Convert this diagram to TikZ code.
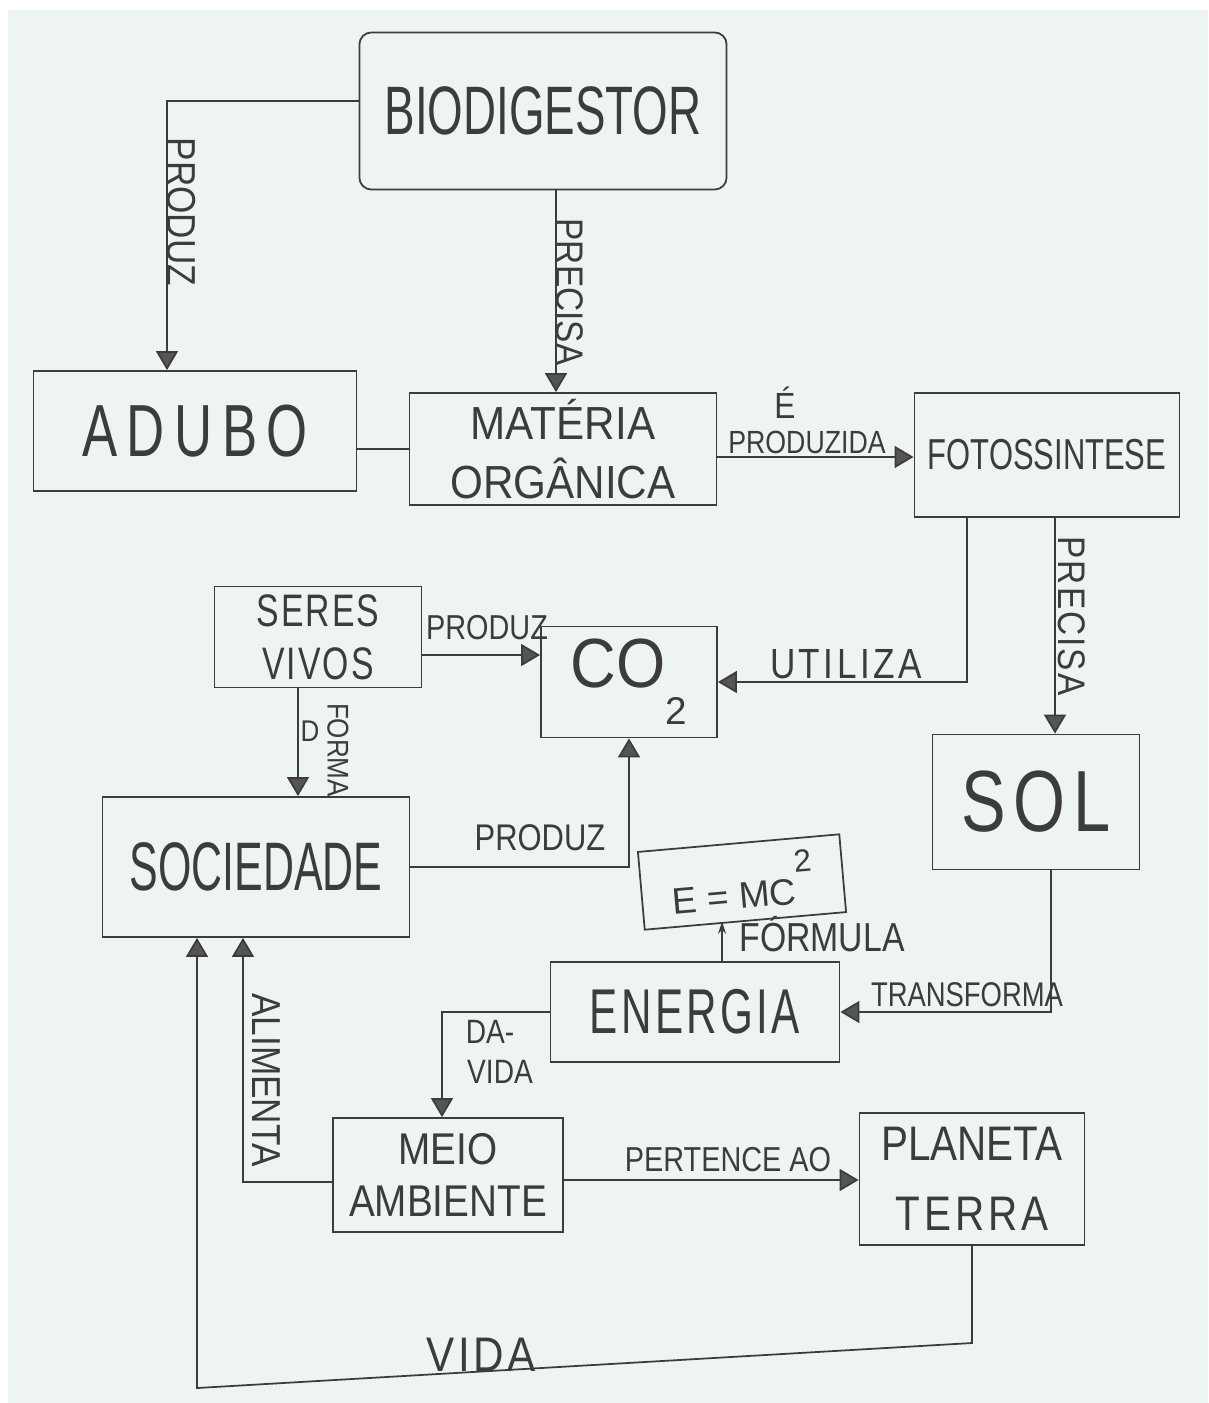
\documentclass[tikz,border=0pt]{standalone}
\usepackage{fontspec}
\setmainfont{Liberation Sans}
\usepackage{graphicx}
\usetikzlibrary{arrows.meta}

\definecolor{paper}{HTML}{EEF5F0}
\definecolor{pencil}{HTML}{3C3C3C}
\definecolor{tipfill}{HTML}{555555}

% vertically stretched lettering, like tall block capitals
\newcommand{\tallt}[2]{\scalebox{1}[#1]{#2}}

\begin{document}
\begin{tikzpicture}[x=0.01cm,y=-0.01cm,
  box/.style={draw=pencil, line width=0.5pt, inner sep=0pt, text=pencil, align=center},
  conn/.style={draw=pencil, line width=0.5pt},
  arr/.style={conn, -{Triangle[width=0.22cm,length=0.19cm,fill=tipfill]}},
  smallarr/.style={conn, -{Stealth[width=0.08cm,length=0.12cm]}},
  lbl/.style={inner sep=0pt, text=pencil, font=\fontsize{8}{10}\selectfont},
]
% sheet of paper
\useasboundingbox (0,0) rectangle (1208,1403);
\fill[white] (0,0) rectangle (1208,1403);
\fill[paper] (8,10) rectangle (1208,1403);

% concept boxes
\node[box, minimum width=3.67cm, minimum height=1.57cm, rounded corners=0.12cm,
      font=\fontsize{13}{16}\selectfont] (bio) at (543,111) {\tallt{1.5}{BIODIGESTOR}};
\node[box, minimum width=3.23cm, minimum height=1.2cm,
      font=\fontsize{15}{18}\selectfont\addfontfeature{LetterSpace=18}] (adubo) at (195,431) {\tallt{1.4}{ADUBO}};
\node[box, minimum width=3.07cm, minimum height=1.12cm,
      font=\fontsize{12}{15}\selectfont] (mat) at (563,449) {\tallt{1.1}{MATÉRIA}\\[2pt]\tallt{1.1}{ORGÂNICA}};
\node[box, minimum width=2.65cm, minimum height=1.24cm,
      font=\fontsize{8.8}{11}\selectfont] (foto) at (1047,455) {\tallt{1.4}{FOTOSSINTESE}};
\node[box, minimum width=2.07cm, minimum height=1.01cm,
      font=\fontsize{9.6}{12}\selectfont\addfontfeature{LetterSpace=6}] (seres) at (318,637) {\tallt{1.35}{SERES}\\[3pt]\tallt{1.35}{VIVOS}};
\node[box, minimum width=1.76cm, minimum height=1.11cm,
      font=\fontsize{18}{20}\selectfont] (co2) at (629,682) {\tallt{1.1}{CO}\raisebox{-1.1ex}{\fontsize{11}{12}\selectfont 2}};
\node[box, minimum width=2.07cm, minimum height=1.35cm,
      font=\fontsize{19}{22}\selectfont\addfontfeature{LetterSpace=12}] (sol) at (1036,802) {\tallt{1.3}{SOL}};
\node[box, minimum width=3.07cm, minimum height=1.4cm,
      font=\fontsize{12.2}{15}\selectfont] (soc) at (256,867) {\tallt{1.6}{SOCIEDADE}};
\node[box, rotate=5, minimum width=2.02cm, minimum height=0.78cm,
      font=\fontsize{10.5}{12}\selectfont] (emc) at (742,882) {E = MC\raisebox{1.6ex}{\fontsize{9}{10}\selectfont 2}};
\node[box, minimum width=2.89cm, minimum height=1.0cm,
      font=\fontsize{12}{15}\selectfont\addfontfeature{LetterSpace=8}] (en) at (695,1012) {\tallt{1.5}{ENERGIA}};
\node[box, minimum width=2.3cm, minimum height=1.14cm,
      font=\fontsize{11}{13}\selectfont] (meio) at (448,1175) {\tallt{1.15}{MEIO}\\[2pt]\tallt{1.15}{AMBIENTE}};
\node[box, minimum width=2.25cm, minimum height=1.32cm,
      font=\fontsize{11.5}{14}\selectfont] (pt) at (972,1179) {\tallt{1.2}{PLANETA}\\[6pt]{\addfontfeature{LetterSpace=10}\tallt{1.2}{TERRA}}};

% connectors
\draw[arr] ([yshift=0.1cm]bio.west) -| ([xshift=-0.28cm]adubo.north);
\draw[arr] ([xshift=0.13cm]bio.south) -- ([xshift=0.13cm]bio.south |- mat.north);
\draw[conn] (adubo.east |- mat.west) -- (mat.west);
\draw[arr] ([yshift=-0.08cm]mat.east) -- ([yshift=-0.08cm]mat.east -| foto.west);
\draw[arr] ([xshift=-0.8cm]foto.south) |- (co2.east);
\draw[arr] ([xshift=0.08cm]foto.south) -- ([xshift=0.08cm]foto.south |- sol.north);
\draw[arr] ([yshift=-0.18cm]seres.east) -- ([yshift=-0.18cm]seres.east -| co2.west);
\draw[arr] ([xshift=-0.2cm]seres.south) -- ([xshift=-0.2cm]seres.south |- soc.north);
\draw[arr] (soc.east) -| (co2.south);
\draw[arr] ([xshift=0.15cm]sol.south) |- (en.east);
\draw[smallarr] ([xshift=0.27cm]en.north) -- ([xshift=0.27cm]en.north |- emc.south);
\draw[arr] (en.west) -| ([xshift=-0.06cm]meio.north);
\draw[arr] ([yshift=-0.07cm]meio.west) -| ([xshift=-0.13cm]soc.south);
\draw[arr] ([yshift=-0.05cm]meio.east) -- ([yshift=-0.05cm]meio.east -| pt.west);
\coordinate (vr) at (972,1343);
\coordinate (vl) at (197,1388);
\draw[arr] (pt.south) -- (pt.south |- vr) -- (vl) -- (vl |- soc.south);

% connector labels
\node[lbl, rotate=-90, font=\fontsize{10}{12}\selectfont] (l-produz1) at (181,212) {\tallt{1.15}{PRODUZ}};
\node[lbl, rotate=-90, font=\fontsize{9.5}{12}\selectfont] (l-precisa1) at (570,292) {\tallt{1.15}{PRECISA}};
\node[lbl, font=\fontsize{9}{11}\selectfont] (l-e) at (785,403) {\tallt{1.15}{É}};
\node[lbl, font=\fontsize{7.6}{10}\selectfont] (l-produzida) at (807,442) {\tallt{1.2}{PRODUZIDA}};
\node[lbl, font=\fontsize{10}{12}\selectfont\addfontfeature{LetterSpace=10}] (l-utiliza) at (846,664) {\tallt{1.2}{UTILIZA}};
\node[lbl, rotate=-90, font=\fontsize{9.5}{12}\selectfont\addfontfeature{LetterSpace=6}] (l-precisa2) at (1072,616) {\tallt{1.15}{PRECISA}};
\node[lbl, font=\fontsize{8.2}{10}\selectfont] (l-produz2) at (487,628) {\tallt{1.2}{PRODUZ}};
\node[lbl, rotate=-90, font=\fontsize{7.4}{9}\selectfont] (l-forma) at (338,750) {\tallt{1.15}{FORMA}};
\node[lbl, font=\fontsize{7.4}{9}\selectfont] (l-d) at (310,731) {\tallt{1.15}{D}};
\node[lbl, font=\fontsize{8.8}{11}\selectfont] (l-produz3) at (540,838) {\tallt{1.2}{PRODUZ}};
\node[lbl, font=\fontsize{9.6}{12}\selectfont] (l-formula) at (822,934) {\tallt{1.2}{FÓRMULA}};
\node[lbl, font=\fontsize{7.8}{10}\selectfont] (l-transforma) at (967,995) {\tallt{1.25}{TRANSFORMA}};
\node[lbl, font=\fontsize{8}{10}\selectfont] (l-da) at (490,1032) {\tallt{1.2}{DA-}};
\node[lbl, font=\fontsize{8}{10}\selectfont] (l-vida1) at (500,1072) {\tallt{1.2}{VIDA}};
\node[lbl, rotate=-90, font=\fontsize{10}{12}\selectfont] (l-alimenta) at (266,1080) {\tallt{1.15}{ALIMENTA}};
\node[lbl, font=\fontsize{8.2}{10}\selectfont] (l-pertence) at (728,1160) {\tallt{1.2}{PERTENCE AO}};
\node[lbl, font=\fontsize{12}{14}\selectfont\addfontfeature{LetterSpace=8}] (l-vida2) at (481,1355) {\tallt{1.15}{VIDA}};
\end{tikzpicture}
\end{document}
